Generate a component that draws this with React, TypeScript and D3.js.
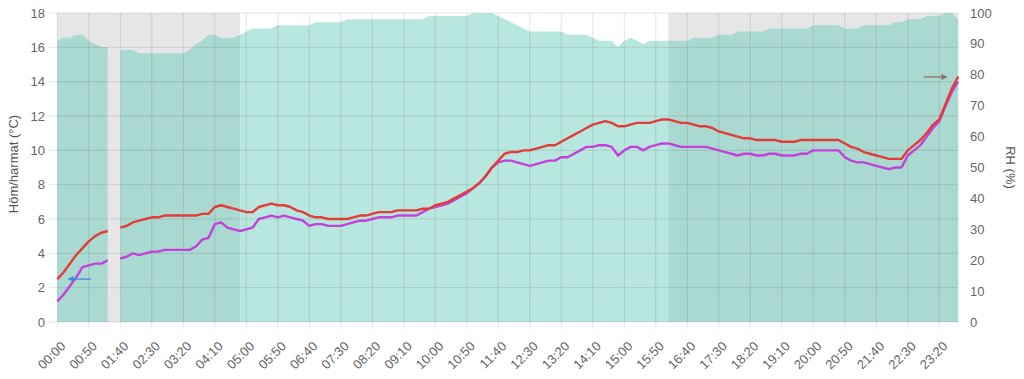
import React from 'react';
import * as d3 from 'd3';

const times: string[] = [
  '00:00','00:10','00:20','00:30','00:40','00:50','01:00','01:10','01:20','01:30','01:40','01:50',
  '02:00','02:10','02:20','02:30','02:40','02:50','03:00','03:10','03:20','03:30','03:40','03:50',
  '04:00','04:10','04:20','04:30','04:40','04:50','05:00','05:10','05:20','05:30','05:40','05:50',
  '06:00','06:10','06:20','06:30','06:40','06:50','07:00','07:10','07:20','07:30','07:40','07:50',
  '08:00','08:10','08:20','08:30','08:40','08:50','09:00','09:10','09:20','09:30','09:40','09:50',
  '10:00','10:10','10:20','10:30','10:40','10:50','11:00','11:10','11:20','11:30','11:40','11:50',
  '12:00','12:10','12:20','12:30','12:40','12:50','13:00','13:10','13:20','13:30','13:40','13:50',
  '14:00','14:10','14:20','14:30','14:40','14:50','15:00','15:10','15:20','15:30','15:40','15:50',
  '16:00','16:10','16:20','16:30','16:40','16:50','17:00','17:10','17:20','17:30','17:40','17:50',
  '18:00','18:10','18:20','18:30','18:40','18:50','19:00','19:10','19:20','19:30','19:40','19:50',
  '20:00','20:10','20:20','20:30','20:40','20:50','21:00','21:10','21:20','21:30','21:40','21:50',
  '22:00','22:10','22:20','22:30','22:40','22:50','23:00','23:10','23:20','23:30','23:40','23:50',
];

const tempC: (number | null)[] = [
  2.5, 2.9, 3.4, 3.9, 4.3, 4.7, 5.0, 5.2, 5.3, null, 5.5, 5.6,
  5.8, 5.9, 6.0, 6.1, 6.1, 6.2, 6.2, 6.2, 6.2, 6.2, 6.2, 6.3,
  6.3, 6.7, 6.8, 6.7, 6.6, 6.5, 6.4, 6.4, 6.7, 6.8, 6.9, 6.8,
  6.8, 6.7, 6.5, 6.4, 6.2, 6.1, 6.1, 6.0, 6.0, 6.0, 6.0, 6.1,
  6.2, 6.2, 6.3, 6.4, 6.4, 6.4, 6.5, 6.5, 6.5, 6.5, 6.6, 6.6,
  6.8, 6.9, 7.0, 7.2, 7.4, 7.6, 7.8, 8.1, 8.5, 9.0, 9.4, 9.8,
  9.9, 9.9, 10.0, 10.0, 10.1, 10.2, 10.3, 10.3, 10.5, 10.7, 10.9, 11.1,
  11.3, 11.5, 11.6, 11.7, 11.6, 11.4, 11.4, 11.5, 11.6, 11.6, 11.6, 11.7,
  11.8, 11.8, 11.7, 11.6, 11.6, 11.5, 11.4, 11.4, 11.3, 11.1, 11.0, 10.9,
  10.8, 10.7, 10.7, 10.6, 10.6, 10.6, 10.6, 10.5, 10.5, 10.5, 10.6, 10.6,
  10.6, 10.6, 10.6, 10.6, 10.6, 10.4, 10.2, 10.1, 9.9, 9.8, 9.7, 9.6,
  9.5, 9.5, 9.5, 10.0, 10.3, 10.6, 11.0, 11.5, 11.8, 12.7, 13.6, 14.3,
];

const dewC: (number | null)[] = [
  1.2, 1.6, 2.1, 2.6, 3.2, 3.3, 3.4, 3.4, 3.6, null, 3.7, 3.8,
  4.0, 3.9, 4.0, 4.1, 4.1, 4.2, 4.2, 4.2, 4.2, 4.2, 4.4, 4.8,
  4.9, 5.7, 5.8, 5.5, 5.4, 5.3, 5.4, 5.5, 6.0, 6.1, 6.2, 6.1,
  6.2, 6.1, 6.0, 5.9, 5.6, 5.7, 5.7, 5.6, 5.6, 5.6, 5.7, 5.8,
  5.9, 5.9, 6.0, 6.1, 6.1, 6.1, 6.2, 6.2, 6.2, 6.2, 6.4, 6.6,
  6.7, 6.8, 6.9, 7.1, 7.3, 7.5, 7.8, 8.1, 8.5, 9.0, 9.3, 9.4,
  9.4, 9.3, 9.2, 9.1, 9.2, 9.3, 9.4, 9.4, 9.6, 9.6, 9.8, 10.0,
  10.2, 10.2, 10.3, 10.3, 10.2, 9.7, 10.0, 10.2, 10.2, 10.0, 10.2, 10.3,
  10.4, 10.4, 10.3, 10.2, 10.2, 10.2, 10.2, 10.2, 10.1, 10.0, 9.9, 9.8,
  9.7, 9.8, 9.8, 9.7, 9.7, 9.8, 9.8, 9.7, 9.7, 9.7, 9.8, 9.8,
  10.0, 10.0, 10.0, 10.0, 10.0, 9.6, 9.4, 9.3, 9.3, 9.2, 9.1, 9.0,
  8.9, 9.0, 9.0, 9.7, 10.0, 10.3, 10.8, 11.3, 11.7, 12.6, 13.4, 14.0,
];

const rhPct: (number | null)[] = [
  91, 92, 92, 93, 93, 91, 90, 89, 89, null, 88, 88,
  88, 87, 87, 87, 87, 87, 87, 87, 87, 88, 90, 91,
  93, 93, 92, 92, 92, 93, 94, 95, 95, 95, 95, 96,
  96, 96, 96, 96, 96, 97, 97, 97, 97, 97, 98, 98,
  98, 98, 98, 98, 98, 98, 98, 98, 98, 98, 98, 99,
  99, 99, 99, 99, 99, 99, 100, 100, 100, 100, 99, 98,
  97, 96, 95, 94, 94, 94, 94, 94, 94, 93, 93, 93,
  93, 92, 91, 91, 91, 89, 91, 92, 91, 90, 91, 91,
  91, 91, 91, 91, 91, 92, 92, 92, 92, 93, 93, 93,
  94, 94, 94, 94, 94, 95, 95, 95, 95, 95, 95, 95,
  96, 96, 96, 96, 96, 95, 95, 95, 96, 96, 96, 96,
  96, 97, 97, 98, 98, 98, 99, 99, 99, 100, 100, 98,
];

const tempTicks = [0, 2, 4, 6, 8, 10, 12, 14, 16, 18];
const rhTicks = [0, 10, 20, 30, 40, 50, 60, 70, 80, 90, 100];
const xTickLabels = [
  '00:00','00:50','01:40','02:30','03:20','04:10','05:00','05:50','06:40','07:30',
  '08:20','09:10','10:00','10:50','11:40','12:30','13:20','14:10','15:00','15:50',
  '16:40','17:30','18:20','19:10','20:00','20:50','21:40','22:30','23:20',
];
const nightRanges: [string, string][] = [['00:00', '04:50'], ['16:10', '23:50']];

// annotation arrows: from/to in index units along the time axis
const arrows = [
  { from: 5.35, to: 1.75, value: 2.5, axis: 'temp', color: '#3d8fd6' },
  { from: 137.5, to: 141.2, value: 79.3, axis: 'rh', color: '#94706c' },
];

const W = 1024;
const H = 379;
const L = 57.3;
const R = 958.2;
const T = 13;
const B = 322;
const FONT = '"Liberation Sans", Arial, Helvetica, sans-serif';

export default function App() {
  const x = d3.scalePoint<string>().domain(times).range([L, R]);
  const xi = d3.scaleLinear().domain([0, times.length - 1]).range([L, R]);
  const yT = d3.scaleLinear().domain([0, 18]).range([B, T]);
  const yR = d3.scaleLinear().domain([0, 100]).range([B, T]);

  const area = d3
    .area<number | null>()
    .defined((d) => d != null)
    .x((_, i) => x(times[i]) as number)
    .y0(yR(0))
    .y1((d) => yR(d as number));

  const line = d3
    .line<number | null>()
    .defined((d) => d != null)
    .x((_, i) => x(times[i]) as number)
    .y((d) => yT(d as number));

  return (
    <svg
      width={W}
      height={H}
      style={{ position: 'fixed', left: 0, top: 0, background: '#fff' }}
      fontFamily={FONT}
    >
      <defs>
        {arrows.map((a, i) => (
          <marker
            key={i}
            id={`ah${i}`}
            viewBox="0 0 10 10"
            refX="9"
            refY="5"
            markerWidth="6"
            markerHeight="6"
            markerUnits="userSpaceOnUse"
            orient="auto"
          >
            <path d="M0,0 L10,5 L0,10 z" fill={a.color} />
          </marker>
        ))}
      </defs>

      {nightRanges.map(([s, e], i) => (
        <rect
          key={i}
          x={x(s)}
          y={T}
          width={(x(e) as number) - (x(s) as number)}
          height={B - T}
          fill="#e6e6e6"
        />
      ))}

      <path d={area(rhPct) || ''} fill="rgb(100,203,185)" fillOpacity={0.46} />

      {tempTicks.map((t) => (
        <line key={t} x1={49} x2={R} y1={yT(t)} y2={yT(t)} stroke="#000" strokeOpacity={0.1} />
      ))}
      {xTickLabels.map((lab) => (
        <line
          key={lab}
          x1={x(lab)}
          x2={x(lab)}
          y1={T}
          y2={B + 7}
          stroke="#000"
          strokeOpacity={0.1}
        />
      ))}

      <path d={line(dewC) || ''} fill="none" stroke="#c341d9" strokeWidth={2.4} strokeLinejoin="round" />
      <path d={line(tempC) || ''} fill="none" stroke="#e23c37" strokeWidth={2.4} strokeLinejoin="round" />

      {arrows.map((a, i) => {
        const yy = a.axis === 'temp' ? yT(a.value) : yR(a.value);
        return (
          <line
            key={i}
            x1={xi(a.from)}
            x2={xi(a.to)}
            y1={yy}
            y2={yy}
            stroke={a.color}
            strokeWidth={1.3}
            markerEnd={`url(#ah${i})`}
          />
        );
      })}

      {tempTicks.map((t) => (
        <text key={t} x={45} y={yT(t)} dy="0.35em" textAnchor="end" fontSize={13} fill="#666">
          {t}
        </text>
      ))}
      {rhTicks.map((t) => (
        <text key={t} x={970} y={yR(t)} dy="0.35em" textAnchor="start" fontSize={13} fill="#666">
          {t}
        </text>
      ))}
      {xTickLabels.map((lab) => (
        <text
          key={lab}
          transform={`translate(${(x(lab) as number) + 9},${B + 25}) rotate(-45)`}
          textAnchor="end"
          fontSize={13}
          fill="#666"
        >
          {lab}
        </text>
      ))}

      <text
        transform={`translate(13,164) rotate(-90)`}
        textAnchor="middle"
        dy="0.35em"
        fontSize={13}
        fill="#555"
      >
        Höm/harmat (°C)
      </text>
      <text
        transform={`translate(1011,${(T + B) / 2}) rotate(90)`}
        textAnchor="middle"
        dy="0.35em"
        fontSize={13}
        fill="#555"
      >
        RH (%)
      </text>
    </svg>
  );
}
